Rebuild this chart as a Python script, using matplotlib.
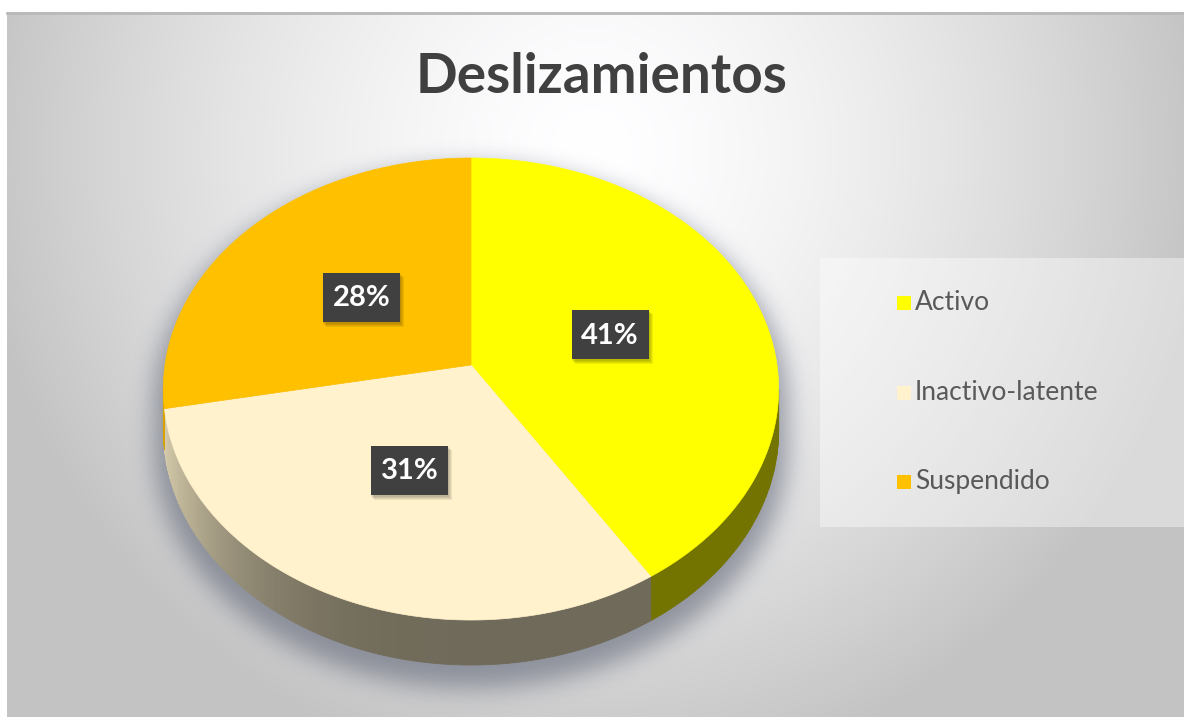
import numpy as np
import matplotlib
matplotlib.use("Agg")
import matplotlib.pyplot as plt
from matplotlib.patches import Polygon, Rectangle
from matplotlib.path import Path

# ==================== DATA ====================
categories = ["Activo", "Inactivo-latente", "Suspendido"]
values = [41, 31, 28]
top_colors = ["#FFFF00", "#FFF2CC", "#FFC000"]
title = "Deslizamientos"

# ==================== LAYOUT ====================
W, H = 1184, 717
CX, CY = 471, 365          # pie vertex (pixels)
A, B = 306, 228.5          # pie radii before perspective
P = 0.104                  # perspective strength
DEPTH = 40.3               # pie thickness
LABEL_R = 0.48

plt.rcParams["font.family"] = ["Lato", "DejaVu Sans"]


def project(theta, r=1.0, drop=0.0):
    t = np.radians(theta)
    u, v = r * np.sin(t), r * np.cos(t)
    s = 1.0 / (1.0 + P * v)
    return CX + A * u * s, CY - B * v * s + drop * s


def arc(t1, t2, drop=0.0, step=0.5):
    th = np.linspace(t1, t2, max(2, int(abs(t2 - t1) / step) + 1))
    x, y = project(th, drop=drop)
    return np.column_stack([x, y])


def box_blur(img, r, n=3):
    out = img.copy()
    for _ in range(n):
        for axis in (0, 1):
            widths = [(r + 1, r) if a == axis else (0, 0) for a in (0, 1)]
            c = np.cumsum(np.pad(out, widths, mode="edge"), axis=axis)
            if axis == 0:
                out = (c[2 * r + 1:, :] - c[:-2 * r - 1, :]) / (2 * r + 1)
            else:
                out = (c[:, 2 * r + 1:] - c[:, :-2 * r - 1]) / (2 * r + 1)
    return out


fig = plt.figure(figsize=(W / 100, H / 100), dpi=100)
fig.patch.set_facecolor("white")
ax = fig.add_axes([0, 0, 1, 1])
ax.set_xlim(0, W)
ax.set_ylim(H, 0)
ax.axis("off")

# fondo con degradado radial
yy, xx = np.mgrid[0:H, 0:W] + 0.5
d = np.sqrt(((xx - 592) / 620) ** 2 + ((yy - 150) / 640) ** 2)
g = (255 - 60 * np.clip(d, 0, 1) ** 1.5) / 255
bg = np.clip(np.dstack([g, g, g * 1.005]), 0, 1)
ax.imshow(bg[12:, 7:], extent=(7, W, H, 12), zorder=0, aspect="auto")
ax.plot([7, W], [13, 13], color="#B9B9B9", lw=2, zorder=1)

# panel de la leyenda
ax.add_patch(Rectangle((820, 258), W - 820, 269, facecolor="white", alpha=0.4,
                       edgecolor="none", zorder=1))

# sombra del pastel (silueta un poco ampliada, desplazada y difuminada)
sil = np.vstack([arc(264 - 360, 96), arc(96, 264, drop=DEPTH)])
sil = (sil - [CX, CY + 60]) * 1.03 + [CX, CY + 60]
pts = np.column_stack([xx.ravel(), yy.ravel() - 16])
mask = Path(sil).contains_points(pts).reshape(H, W).astype(float)
mask = box_blur(mask, 11)
shadow = np.zeros((H, W, 4))
shadow[..., 0] = 85 / 255
shadow[..., 1] = 92 / 255
shadow[..., 2] = 110 / 255
shadow[..., 3] = 0.55 * mask
ax.imshow(shadow, extent=(0, W, H, 0), zorder=2, aspect="auto")

# angulos de cada porcion (sentido horario desde las 12)
bounds = np.concatenate([[0], np.cumsum(values) / np.sum(values) * 360])

# caras laterales
for i in range(len(values)):
    t1, t2 = max(bounds[i], 96), min(bounds[i + 1], 264)
    if t2 <= t1:
        continue
    base = np.array(matplotlib.colors.to_rgb(top_colors[i]))
    th = np.linspace(t1, t2, max(2, int((t2 - t1) / 1.0) + 1))
    for a, b in zip(th[:-1], th[1:]):
        u = np.sin(np.radians((a + b) / 2))
        shade = 0.44 + 0.42 * max(0.0, -u) ** 3
        if i == 0:
            shade = 0.45
        col = np.clip(base * shade, 0, 1)
        quad = np.vstack([arc(a, b, step=0.25), arc(a, b, drop=DEPTH, step=0.25)[::-1]])
        ax.add_patch(Polygon(quad, closed=True, facecolor=col, edgecolor=col,
                             lw=0.6, zorder=3))

# caras superiores
for i in range(len(values)):
    poly = np.vstack([[CX, CY], arc(bounds[i], bounds[i + 1])])
    ax.add_patch(Polygon(poly, closed=True, facecolor=top_colors[i],
                         edgecolor=top_colors[i], lw=0.5, zorder=4))

# etiquetas de datos
for i, v in enumerate(values):
    mid = (bounds[i] + bounds[i + 1]) / 2
    lx, ly = project(mid, r=LABEL_R)
    for k in range(4):
        ax.add_patch(Rectangle((lx - 38.5 + k, ly - 24.5 + 1 + k), 77 + 1, 49 + 1,
                               facecolor="black", alpha=0.07, edgecolor="none", zorder=5))
    ax.add_patch(Rectangle((lx - 38.5, ly - 24.5), 77, 49, facecolor="#404040",
                           edgecolor="none", zorder=6))
    ax.text(lx, ly + 1, f"{v}%", color="white", fontsize=21, fontweight="bold",
            ha="center", va="center", zorder=7)

# titulo
ax.text(602, 77, title, color="#404040", fontsize=39.5, fontweight="bold",
        ha="center", va="center", zorder=7)

# leyenda
legend_y = [303, 393, 482]
for name, col, y in zip(categories, top_colors, legend_y):
    ax.add_patch(Rectangle((897, y - 7), 14, 14, facecolor=col, edgecolor="none", zorder=7))
    ax.text(915, y, name, color="#595959", fontsize=19, ha="left", va="center", zorder=7)

plt.savefig("out.png", dpi=100)
plt.close()
